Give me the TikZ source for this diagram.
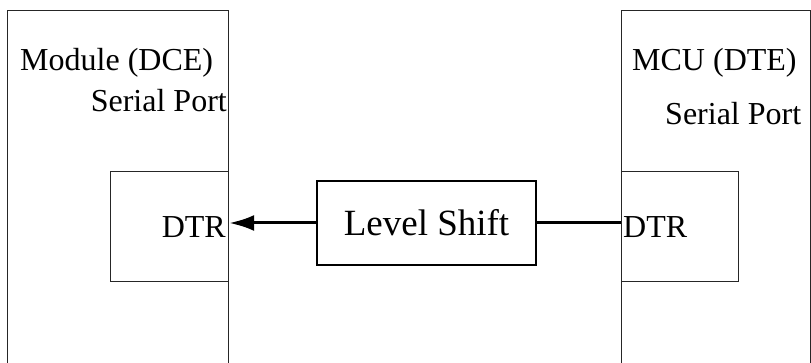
\documentclass[tikz,border=0pt]{standalone}
\usepackage{fontspec}
\setmainfont{Liberation Serif}
\usetikzlibrary{arrows.meta}
\tikzstyle{port} = [draw=black!85, line width=1.2pt, rectangle, anchor=north west, inner sep=0pt]
\tikzstyle{shifter} = [draw, line width=2.2pt, rectangle, minimum width=219pt, minimum height=84pt, font=\fontsize{37}{44}\selectfont]
\tikzstyle{txt} = [inner sep=0pt, font=\fontsize{32}{38}\selectfont]
\tikzstyle{wire} = [line width=3pt]

\begin{document}
\begin{tikzpicture}[x=1pt, y=-1pt, >={Latex[length=25pt,width=16pt]}]
        \useasboundingbox (0,0) rectangle (811,363);
        \clip (0,0) rectangle (811,363);
        % Module side
        \node [port, minimum width=221pt, minimum height=380pt] (dce) at (7,10) {};
        \node [port, minimum width=118pt, minimum height=110pt] (dceport) at (110,171) {};
        \node [txt, anchor=base west] (dcename) at (20,71) {Module (DCE)};
        \node [txt, anchor=base east] (dceserial) at (227,112) {Serial Port};
        \node [txt, anchor=base east] (dcedtr) at (226,238) {DTR};
        % MCU side
        \node [port, minimum width=189pt, minimum height=380pt] (dte) at (621,10) {};
        \node [port, minimum width=117pt, minimum height=110pt] (dteport) at (621,171) {};
        \node [txt, anchor=base west] (dtename) at (632,71) {MCU (DTE)};
        \node [txt, anchor=base west] (dteserial) at (665,125) {Serial Port};
        \node [txt, anchor=base west] (dtedtr) at (623,238) {DTR};
        % level shift in between
        \node [shifter] (shift) at (426.5,223) {Level Shift};
        % connections
        \draw [wire, ->] (shift.west) -- (dceport.east |- shift.west);
        \draw [wire] (shift.east) -- (dteport.west |- shift.east);
\end{tikzpicture}
\end{document}
